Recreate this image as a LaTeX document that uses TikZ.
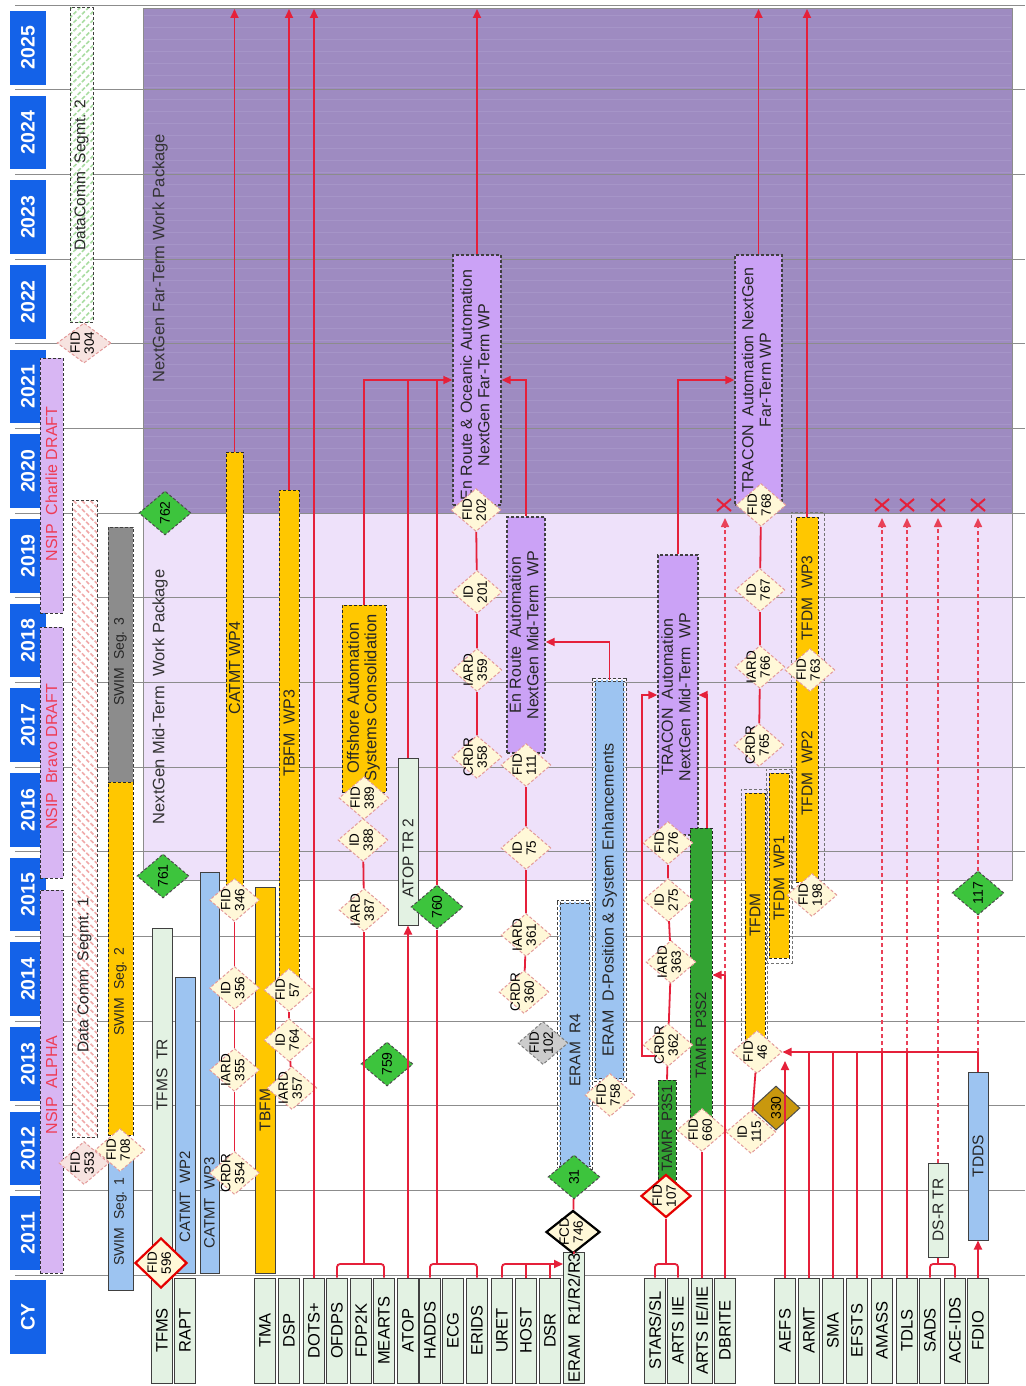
\documentclass[tikz,border=0pt]{standalone}
\usepackage{fontspec}
\setmainfont{Liberation Sans}
\usepackage{graphicx}
\usetikzlibrary{shapes.geometric,arrows.meta,fit,patterns.meta,calc}
\pgfdeclarelayer{bg}
\pgfsetlayers{bg,main}
\definecolor{yearblue}{HTML}{1462E8}
\definecolor{farpurple}{HTML}{9E8BC1}
\definecolor{farstripe}{HTML}{A695C8}
\definecolor{midlav}{HTML}{EEE1FA}
\definecolor{wppurple}{HTML}{CBA2F6}
\definecolor{barblue}{HTML}{9DC4F1}
\definecolor{baryellow}{HTML}{FFC700}
\definecolor{mint}{HTML}{E3F2E3}
\definecolor{swimgray}{HTML}{8C8C8C}
\definecolor{tamrgreen}{HTML}{33A333}
\definecolor{msgreen}{HTML}{3DC43D}
\definecolor{linered}{HTML}{E5203A}
\definecolor{nsiplav}{HTML}{D8B6F3}
\definecolor{nsipred}{HTML}{EE3B55}
\definecolor{diafill}{HTML}{FFF8D8}
\definecolor{diapink}{HTML}{F7E3E0}
\definecolor{diaedge}{HTML}{E39A9A}
\definecolor{goldd}{HTML}{C9980E}
\definecolor{gridgray}{HTML}{8C8C8C}
\definecolor{hatchgreen}{HTML}{A8DCA0}
\definecolor{hatchred}{HTML}{F0A8A8}
\newcommand\rotl[1]{\rotatebox{90}{#1}}
\newcommand\rotll[2]{\rotatebox{90}{\begin{tabular}{@{}c@{}}#1\\#2\end{tabular}}}
\newcommand\mkbox[6]{\node[fit={(#2,#3)(#4,#5)},inner sep=0pt,#6] (#1) {};}
\newcommand\sysb[3]{\node[syst,minimum height=105pt] (#1) at (#2,1330.5) {\rotl{#3}};}
\begin{document}
\begin{tikzpicture}[x=1pt,y=-1pt,
  conn/.style={draw=linered,line width=1.8pt},
  dconn/.style={draw=linered!85,line width=1.6pt,dash pattern=on 4pt off 3pt},
  arr/.style={-{Triangle[length=9pt,width=8pt]}},
  gline/.style={draw=gridgray,line width=0.9pt},
  lbl/.style={inner sep=0pt,text=black!85,font=\fontsize{15.5}{17}\selectfont},
  wplbl/.style={inner sep=0pt,text=black!85,font=\fontsize{16}{17.5}\selectfont},
  reglbl/.style={inner sep=0pt,text=black!80,font=\fontsize{16.5}{18}\selectfont},
  yeart/.style={inner sep=0pt,text=white,font=\fontsize{19.5}{21}\selectfont\bfseries},
  syst/.style={draw=black!75,line width=1pt,fill=mint,inner sep=0pt,minimum width=21pt,font=\fontsize{16.5}{18}\selectfont},
  barb/.style={draw=black!75,line width=1pt,fill=barblue},
  bary/.style={draw=black!75,line width=1pt,fill=baryellow},
  bard/.style={draw=black!85,line width=1pt,fill=baryellow,dash pattern=on 3pt off 2pt},
  mintb/.style={draw=black!75,line width=1pt,fill=mint},
  grayb/.style={draw=black!75,line width=1pt,fill=swimgray,dash pattern=on 3pt off 2pt},
  greenb/.style={draw=black!85,line width=1pt,fill=tamrgreen,dash pattern=on 3pt off 2pt},
  wpb/.style={draw=black!75,line width=1.3pt,fill=wppurple,dash pattern=on 3pt off 2pt},
  dblb/.style={draw=black!75,line width=0.8pt,double=white,double distance=2pt,fill=barblue,dash pattern=on 3pt off 2pt},
  outerd/.style={draw=black!55,line width=1pt,dash pattern=on 3pt off 2pt},
  nsip/.style={draw=black!80,line width=1pt,fill=nsiplav,dash pattern=on 3pt off 2pt},
  nsipt/.style={inner sep=0pt,text=nsipred,font=\fontsize{16}{18}\selectfont},
  hatchg/.style={preaction={fill=white},pattern={Lines[angle=45,distance=6pt,line width=1.6pt]},pattern color=hatchgreen,draw=black!75,line width=1pt,dash pattern=on 3pt off 2pt},
  hatchr/.style={preaction={fill=white},pattern={Lines[angle=-45,distance=6pt,line width=1.6pt]},pattern color=hatchred,draw=black!75,line width=1pt,dash pattern=on 3pt off 2pt},
  dia/.style={diamond,draw=diaedge,line width=1pt,dash pattern=on 3pt off 2pt,fill=diafill,minimum width=50pt,minimum height=43pt,inner sep=-14pt,font=\fontsize{13.5}{14}\selectfont},
  diared/.style={dia,draw=red!90!black,line width=2.2pt,solid},
  diablack/.style={dia,draw=black,line width=2.2pt,solid},
  diagray/.style={dia,fill=black!20,draw=black!50},
  gdia/.style={diamond,draw=black!70,line width=1pt,dash pattern=on 3pt off 2pt,fill=msgreen,minimum width=52pt,minimum height=44pt,inner sep=-12pt,font=\fontsize{14}{15}\selectfont},
]
\useasboundingbox (0,0) rectangle (1025,1386);
\begin{pgfonlayer}{bg}
  \fill[white] (0,0) rectangle (1025,1386);
  \mkbox{far}{143}{8}{1012}{513}{fill=farpurple,draw=gridgray,line width=0.9pt}
  \foreach \s in {16,28,...,508} \draw[farstripe,line width=1pt] (144,\s) -- (1011,\s);
  \mkbox{mid}{143}{513}{1012}{880}{fill=midlav,draw=gridgray,line width=0.9pt}
  \foreach \i in {0,...,15}{\pgfmathsetmacro\gy{5+84.667*\i}\draw[gline] (15,\gy) -- (1025,\gy);}
\end{pgfonlayer}
% years
\foreach \yr [count=\i from 0] in {2025,2024,...,2011}{
  \pgfmathsetmacro\ya{11+84.667*\i}
  \pgfmathsetmacro\yb{84.667+84.667*\i}
  \node[fit={(10,\ya)(46,\yb)},inner sep=0pt,fill=yearblue] (y\yr) {};
  \node[yeart] (yt\yr) at (y\yr.center) {\rotl{\yr}};
}
\mkbox{cy}{10}{1280}{46}{1354}{fill=yearblue}
\node[yeart] (cyt) at (cy.center) {\rotl{CY}};
% region labels
\node[reglbl] (fart) at (160,258) {\rotl{NextGen Far-Term Work Package}};
\node[reglbl] (midt) at (160,697) {\rotl{NextGen Mid-Term\ \ Work Package}};
% NSIP
\mkbox{nsipc}{40}{358}{63}{613}{nsip} \node[nsipt] (nsipct) at (51.5,484) {\rotl{NSIP\ \ Charlie DRAFT}};
\mkbox{nsipb}{40}{627}{63}{878}{nsip} \node[nsipt] (nsipbt) at (51.5,757) {\rotl{NSIP\ \ Bravo DRAFT}};
\mkbox{nsipa}{40}{890}{63}{1273}{nsip} \node[nsipt] (nsipat) at (51.5,1085) {\rotl{NSIP\ \ ALPHA}};
% DataComm
\mkbox{dc2}{70}{8}{93}{322}{hatchg} \node[lbl] (dc2t) at (81.5,175) {\rotl{DataComm\ \ Segmt. 2}};
\mkbox{dc1}{72}{500}{97}{1137}{hatchr} \node[lbl] (dc1t) at (84.5,975) {\rotl{Data Comm\ \ Segmt. 1}};
% SWIM
\mkbox{swim3}{108}{527}{133}{782}{grayb} \node[lbl,font=\fontsize{14}{16}\selectfont] (swim3t) at (120.5,662) {\rotl{SWIM\ \ Seg. 3}};
\mkbox{swim2}{108}{782}{133}{1135}{bard} \node[lbl,font=\fontsize{14}{16}\selectfont] (swim2t) at (120.5,992) {\rotl{SWIM\ \ Seg. 2}};
\mkbox{swim1}{108}{1153}{133}{1290}{barb} \node[lbl,font=\fontsize{14}{16}\selectfont] (swim1t) at (120.5,1222) {\rotl{SWIM\ \ Seg. 1}};
% bars
\mkbox{tfmstr}{152}{928}{172}{1268}{mintb} \node[lbl] (tfmstrt) at (162,1075) {\rotl{TFMS\ \ TR}};
\mkbox{catmt2}{175}{977}{195}{1273}{barb} \node[lbl,font=\fontsize{15}{16}\selectfont] (catmt2t) at (185,1197) {\rotl{CATMT\ \ WP2}};
\mkbox{catmt3}{200}{872}{219}{1273}{barb} \node[lbl,font=\fontsize{15}{16}\selectfont] (catmt3t) at (209.5,1203) {\rotl{CATMT\ \ WP3}};
\mkbox{catmt4}{226}{452}{243}{886}{bard} \node[lbl,font=\fontsize{16}{17}\selectfont] (catmt4t) at (234.5,668) {\rotl{CATMT WP4}};
\mkbox{tbfm}{255}{887}{275}{1273}{bary} \node[lbl] (tbfmt) at (265,1110) {\rotl{TBFM}};
\mkbox{tbfm3}{279}{490}{299}{977}{bard} \node[lbl,font=\fontsize{16}{17}\selectfont] (tbfm3t) at (289,733) {\rotl{TBFM\ \ WP3}};
\mkbox{offsh}{342}{605}{386}{792}{bard} \node[lbl,font=\fontsize{16.5}{17.5}\selectfont] (offsht) at (364,698) {\rotll{Offshore Automation}{Systems Consolidation}};
\mkbox{atoptr}{398}{758}{418}{925}{mintb} \node[lbl] (atoptrt) at (408,858) {\rotl{ATOP TR 2}};
\mkbox{ero}{453}{255}{501}{505}{wpb} \node[wplbl] (erot) at (477,385) {\rotll{En Route \& Oceanic Automation}{NextGen Far-Term WP}};
\mkbox{erm}{507}{517}{545}{753}{wpb} \node[wplbl] (ermt) at (526,635) {\rotll{En Route\ \ Automation}{NextGen Mid-Term\ \ WP}};
\mkbox{eramr4}{559}{902}{591}{1168}{dblb} \node[lbl] (eramr4t) at (575,1050) {\rotl{ERAM\ \ R4}};
\mkbox{erd}{594}{680}{625}{1080}{dblb} \node[lbl,font=\fontsize{16}{17}\selectfont] (erdt) at (609.5,900) {\rotl{ERAM\ \ D-Position \& System Enhancements}};
\mkbox{tamr1}{658}{1080}{676}{1187}{greenb} \node[lbl,font=\fontsize{15}{16}\selectfont] (tamr1t) at (667,1128) {\rotl{TAMR\ \ P3S1}};
\mkbox{trm}{658}{555}{698}{835}{wpb} \node[wplbl] (trmt) at (678,697) {\rotll{TRACON\ \ Automation}{NextGen Mid-Term\ \ WP}};
\mkbox{tamr2}{690}{828}{712}{1117}{greenb} \node[lbl,font=\fontsize{15}{16}\selectfont] (tamr2t) at (701,1035) {\rotl{TAMR\ \ P3S2}};
\mkbox{trf}{735}{255}{782}{505}{wpb} \node[wplbl] (trft) at (758.5,380) {\rotll{TRACON\ \ Automation NextGen}{Far-Term WP}};
\mkbox{tfdmo}{741}{789}{767}{1043}{outerd}
\mkbox{tfdm}{745}{793}{765}{1040}{bard} \node[lbl] (tfdmt) at (755,915) {\rotl{TFDM}};
\mkbox{tfdm1o}{766}{769}{792}{963}{outerd}
\mkbox{tfdm1}{769}{773}{789}{958}{bard} \node[lbl] (tfdm1t) at (779,878) {\rotl{TFDM\ \ WP1}};
\mkbox{tfdm23o}{791}{512}{824}{888}{outerd}
\mkbox{tfdm23}{796}{517}{818}{882}{bard}
\node[lbl] (tfdm3t) at (807,598) {\rotl{TFDM\ \ WP3}};
\node[lbl] (tfdm2t) at (807,773) {\rotl{TFDM\ \ WP2}};
\mkbox{tdds}{968}{1072}{988}{1240}{barb} \node[lbl] (tddst) at (978,1156) {\rotl{TDDS}};
\mkbox{dsrtr}{928}{1163}{948}{1257}{mintb} \node[lbl] (dsrtrt) at (938,1210) {\rotl{DS-R TR}};
% systems
\sysb{tfms}{162}{TFMS}
\sysb{rapt}{185}{RAPT}
\sysb{tma}{265}{TMA}
\sysb{dsp}{289}{DSP}
\sysb{dots}{314}{DOTS+}
\sysb{ofdps}{337}{OFDPS}
\sysb{fdp}{361}{FDP2K}
\sysb{mearts}{384}{MEARTS}
\sysb{atop}{408}{ATOP}
\sysb{hadds}{430}{HADDS}
\sysb{ecg}{453}{ECG}
\sysb{erids}{477}{ERIDS}
\sysb{uret}{502}{URET}
\sysb{host}{526}{HOST}
\sysb{dsr}{550}{DSR}
\node[syst,minimum height=131pt] (eram) at (574,1317.5) {\rotl{ERAM\ \ R1/R2/R3}};
\sysb{stars}{655}{STARS/SL}
\sysb{artsiie}{678}{ARTS IIE}
\sysb{artsie}{702}{ARTS IE/IIE}
\sysb{dbrite}{725}{DBRITE}
\sysb{aefs}{785}{AEFS}
\sysb{armt}{809}{ARMT}
\sysb{sma}{833}{SMA}
\sysb{efsts}{857}{EFSTS}
\sysb{amass}{882}{AMASS}
\sysb{tdls}{907}{TDLS}
\sysb{sads}{930}{SADS}
\sysb{aceids}{955}{ACE-IDS}
\sysb{fdio}{978}{FDIO}
% diamonds
\node[dia,fill=diapink,minimum width=54pt,minimum height=40pt] (fid304) at (84,343) {\rotll{FID}{304}};
\node[dia,fill=diapink] (fid353) at (84,1163) {\rotll{FID}{353}};
\node[dia] (fid708) at (120,1150) {\rotll{FID}{708}};
\node[diared,minimum width=52pt,minimum height=50pt] (fid596) at (161,1263) {\rotll{FID}{596}};
\node[gdia] (m762) at (165,513) {\rotl{762}};
\node[gdia] (m761) at (163,876) {\rotl{761}};
\node[dia] (fid346) at (234.5,900) {\rotll{FID}{346}};
\node[dia] (id356) at (234.5,988) {\rotll{ID}{356}};
\node[dia] (iard355) at (234.5,1070) {\rotll{IARD}{355}};
\node[dia] (crdr354) at (234.5,1173) {\rotll{CRDR}{354}};
\node[dia] (fid57) at (289,990) {\rotll{FID}{57}};
\node[dia] (id764) at (289,1040) {\rotll{ID}{764}};
\node[dia] (iard357) at (292,1088) {\rotll{IARD}{357}};
\node[gdia] (m759) at (387,1064) {\rotl{759}};
\node[dia] (iard387) at (364,910) {\rotll{IARD}{387}};
\node[dia] (id388) at (363,840) {\rotll{ID}{388}};
\node[dia] (fid389) at (364,798) {\rotll{FID}{389}};
\node[gdia] (m760) at (437,907) {\rotl{760}};
\node[dia] (crdr358) at (477,757) {\rotll{CRDR}{358}};
\node[dia] (iard359) at (477,670) {\rotll{IARD}{359}};
\node[dia] (id201) at (477,592) {\rotll{ID}{201}};
\node[dia] (fid202) at (476,510) {\rotll{FID}{202}};
\node[dia] (crdr360) at (524,992) {\rotll{CRDR}{360}};
\node[dia] (iard361) at (526,935) {\rotll{IARD}{361}};
\node[dia] (id75) at (526,848) {\rotll{ID}{75}};
\node[dia] (fid111) at (526,765) {\rotll{FID}{111}};
\node[diagray] (fid102) at (543,1043) {\rotll{FID}{102}};
\node[dia] (fid758) at (610,1095) {\rotll{FID}{758}};
\node[gdia] (m31) at (574,1177) {\rotl{31}};
\node[diablack,minimum width=54pt] (fcd746) at (573,1232) {\rotll{FCD}{746}};
\node[diared] (fid107) at (666,1196) {\rotll{FID}{107}};
\node[dia] (crdr362) at (668,1045) {\rotll{CRDR}{362}};
\node[dia] (iard363) at (671,962) {\rotll{IARD}{363}};
\node[dia] (id275) at (668,900) {\rotll{ID}{275}};
\node[dia] (fid276) at (668,843) {\rotll{FID}{276}};
\node[dia] (fid660) at (702,1130) {\rotll{FID}{660}};
\node[dia] (fid768) at (761,505) {\rotll{FID}{768}};
\node[dia] (id767) at (760,590) {\rotll{ID}{767}};
\node[dia] (iard766) at (760,667) {\rotll{IARD}{766}};
\node[dia] (crdr765) at (759,745) {\rotll{CRDR}{765}};
\node[dia] (fid763) at (810,670) {\rotll{FID}{763}};
\node[dia] (fid198) at (812,895) {\rotll{FID}{198}};
\node[gdia,fill=goldd,solid,minimum width=48pt,minimum height=44pt] (g330) at (776,1108) {\rotl{330}};
\node[dia] (fid46) at (757,1052) {\rotll{FID}{46}};
\node[dia] (id115) at (751,1132) {\rotll{ID}{115}};
\node[gdia] (m117) at (978,893) {\rotl{117}};
% connectors
\coordinate (ftop) at (500,9);
\coordinate (xa) at (500,518);
\draw[conn,arr] (catmt4.north) -- (catmt4.north |- ftop);
\draw[conn,arr] (tbfm3.north) -- (tbfm3.north |- ftop);
\draw[conn,arr] (dots.north) -- (dots.north |- ftop);
\draw[conn,arr] (ero.north) -- (ero.north |- ftop);
\draw[conn,arr] (trf.north) -- (trf.north |- ftop);
\draw[conn,arr] (tfdm23.north) -- (tfdm23.north |- ftop);
\draw[conn] (crdr354) -- (iard355) -- (id356) -- (fid346);
\draw[conn] (iard357) -- (id764) -- (fid57);
\coordinate (br1) at (364,1264);
\draw[conn,rounded corners=3pt] (ofdps.north) |- (br1) -| (mearts.north);
\draw[conn] (br1) -- (iard387) -- (id388);
\draw[conn,arr] (offsh.north) |- (ero.west);
\draw[conn,arr] (atop.north) -- (atoptr.south);
\draw[conn] (atoptr.north) -- (atoptr.north |- ero.west);
\coordinate (br2) at (437,1264);
\draw[conn,rounded corners=3pt] (hadds.north) |- (br2) -| (erids.north);
\draw[conn] (br2) -- (m760) -- (br2 |- ero.west);
\coordinate (br3) at (502,1264);
\draw[conn,arr,rounded corners=3pt] (uret.north) |- (eram.west |- br3);
\draw[conn] (host.north) -- (host.north |- br3);
\draw[conn] (dsr.north) -- (dsr.north |- br3);
\draw[conn] (eram.north) -- (fcd746) -- (m31);
\coordinate (erdj) at (609.5,642);
\draw[conn,arr] (erd.north) -- (erdj) -- (erm.east |- erdj);
\draw[conn] (crdr360) -- (iard361) -- (id75) -- (fid111);
\draw[conn,arr] (erm.north) |- (ero.east);
\draw[conn] (crdr358) -- (iard359) -- (id201) -- (fid202);
\coordinate (br4) at (666,1264);
\draw[conn,rounded corners=3pt] (stars.north) |- (br4) -| (artsiie.north);
\draw[conn] (br4) -- (fid107);
\draw[conn] (tamr1.north) -- (crdr362) -- (iard363) -- (id275) -- (fid276);
\coordinate (c362t) at (642,695);
\draw[conn,arr] (crdr362.south west) -| (c362t) -- (trm.west |- c362t);
\coordinate (t2j) at (707,695);
\draw[conn,arr] (tamr2.north -| t2j) -- (t2j) -- (trm.east |- t2j);
\draw[conn,arr] (trm.north) |- (trf.west);
\draw[conn] (artsie.north) -- (fid660);
\coordinate (dbj) at (725,975);
\draw[conn,arr] (dbrite.north) -- (dbj) -- (tamr2.east |- dbj);
\draw[dconn,arr] (dbj) -- (dbj |- xa);
\draw[conn] (crdr765) -- (iard766) -- (id767) -- (fid768);
\draw[conn] (fid46) -- (id115);
\coordinate (aefst) at (785,1061);
\draw[conn,arr] (aefs.north) -- (aefst);
\draw[conn] (armt.north) -- (armt.north |- fid46);
\draw[conn] (sma.north) -- (sma.north |- fid46);
\draw[conn] (efsts.north) -- (efsts.north |- fid46);
\draw[conn] (amass.north) -- (amass.north |- fid46);
\draw[dconn,arr] (amass.north |- fid46) -- (amass.north |- xa);
\draw[conn] (tdls.north) -- (tdls.north |- fid46);
\draw[dconn,arr] (tdls.north |- fid46) -- (tdls.north |- xa);
\draw[conn,arr] (tdds.north) |- (fid46.east);
\draw[dconn] (tdds.north |- fid46) -- (m117);
\draw[dconn,arr] (m117) -- (tdds.north |- xa);
\draw[conn,arr] (fdio.north) -- (tdds.south);
\coordinate (br5) at (938,1264);
\draw[conn,rounded corners=3pt] (sads.north) |- (br5) -| (aceids.north);
\draw[conn] (br5) -- (dsrtr.south);
\draw[dconn,arr] (dsrtr.north) -- (dsrtr.north |- xa);
% X marks
\foreach \xx in {724,882,907,938,978}
  \draw[linered,line width=2pt] (\xx-7,499) -- (\xx+7,511) (\xx-7,511) -- (\xx+7,499);
\end{tikzpicture}
\end{document}
